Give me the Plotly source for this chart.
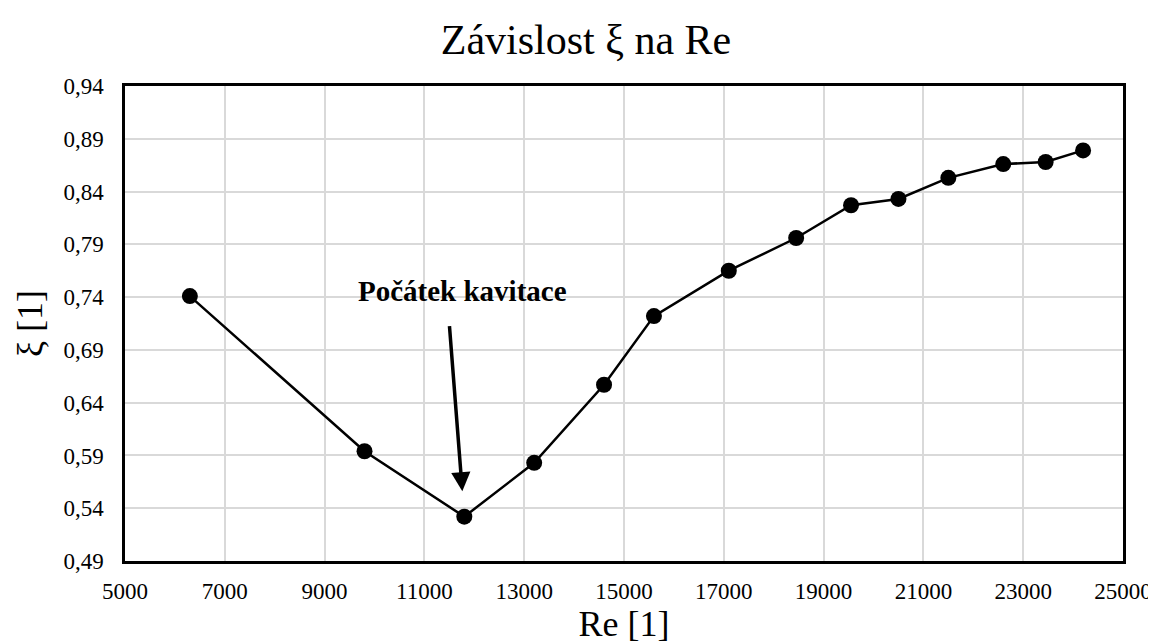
import plotly.graph_objects as go

# Re [1] and xi [1]
re_values = [6300, 9800, 11800, 13200, 14600, 15600, 17100, 18450, 19550,
             20500, 21500, 22600, 23450, 24200]
xi_values = [0.741, 0.594, 0.532, 0.583, 0.657, 0.722, 0.765, 0.796, 0.827,
             0.833, 0.853, 0.866, 0.868, 0.879]

x_ticks = list(range(5000, 25001, 2000))
y_ticks = [0.49, 0.54, 0.59, 0.64, 0.69, 0.74, 0.79, 0.84, 0.89, 0.94]

FONT = "Liberation Serif"

fig = go.Figure()
fig.add_trace(go.Scatter(
    x=re_values,
    y=xi_values,
    mode="lines+markers",
    line=dict(color="black", width=2.5),
    marker=dict(color="black", size=16),
    showlegend=False,
))

# arrow pointing at the start of cavitation
fig.add_annotation(
    x=11760, y=0.556, xref="x", yref="y",
    ax=11500, ay=0.714, axref="x", ayref="y",
    showarrow=True, arrowhead=2, arrowsize=1.1, arrowwidth=3.5,
    arrowcolor="black", text="",
)
fig.add_annotation(
    x=11760, y=0.746, xref="x", yref="y",
    text="<b>Počátek kavitace</b>", showarrow=False,
    font=dict(family=FONT, size=29, color="black"),
)

fig.update_layout(
    width=1156, height=642,
    paper_bgcolor="white",
    plot_bgcolor="white",
    separators=", ",
    font=dict(family=FONT, color="black"),
    title=dict(
        text="Závislost ξ na Re",
        x=0.5, xanchor="center",
        y=0.952, yanchor="middle", yref="container",
        font=dict(family=FONT, size=42, color="black"),
    ),
    margin=dict(l=117, r=33, t=78, b=89),
)
fig.update_xaxes(
    range=[5000, 25000],
    tickvals=x_ticks,
    tickformat="d",
    showgrid=True, gridcolor="#d9d9d9", gridwidth=2,
    showline=True, mirror=True, linecolor="black", linewidth=2.5,
    zeroline=False,
    ticks="", ticklabelstandoff=8,
    tickfont=dict(family=FONT, size=23, color="black"),
    title=dict(text="Re [1]", font=dict(family=FONT, size=36, color="black"),
               standoff=6),
)
fig.update_yaxes(
    range=[0.49, 0.94],
    tickvals=y_ticks,
    tickformat=".2f",
    showgrid=True, gridcolor="#d9d9d9", gridwidth=2,
    showline=True, mirror=True, linecolor="black", linewidth=2.5,
    zeroline=False,
    ticks="", ticklabelstandoff=14,
    tickfont=dict(family=FONT, size=23, color="black"),
    title=dict(text="ξ [1]", font=dict(family=FONT, size=36, color="black"),
               standoff=10),
)

fig.write_html("out.html")
